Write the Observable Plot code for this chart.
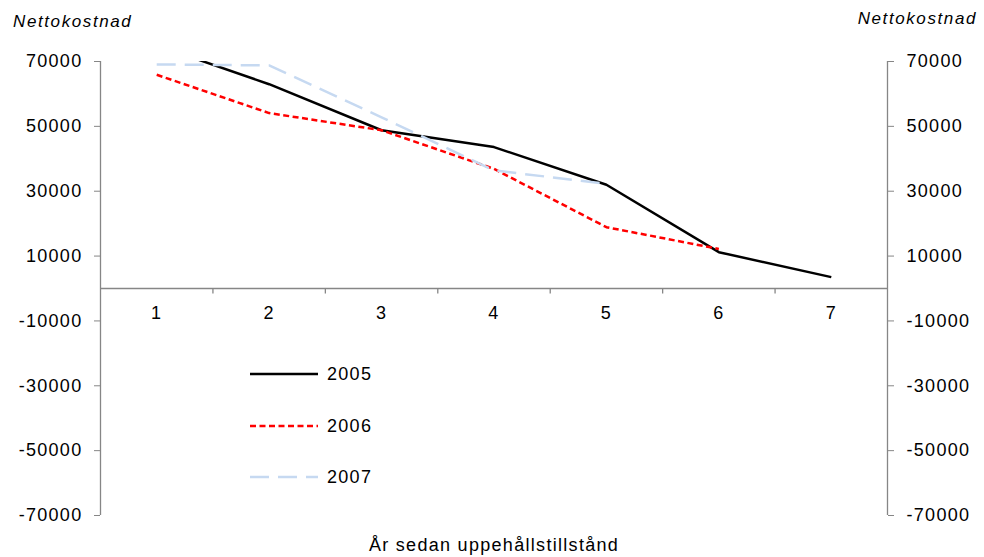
<!DOCTYPE html>
<html>
<head>
<meta charset="utf-8">
<script src="https://cdn.jsdelivr.net/npm/d3@7"></script>
<script src="https://cdn.jsdelivr.net/npm/@observablehq/plot@0.6"></script>
<style>
  html, body { margin: 0; padding: 0; background: #fff; }
  #chart svg { display: block; }
</style>
</head>
<body>
<div id="chart"></div>
<script>
const years = [1, 2, 3, 4, 5, 6, 7];
const series = ["2005", "2006", "2007"];
const v2005 = [75000, 63000, 48800, 43600, 32000, 11200, 3500];
const v2006 = [65900, 54100, 48800, 36900, 18900, 12200];
const v2007 = [69100, 68800, 52800, 36400, 32300];
const yTicks = [70000, 50000, 30000, 10000, -10000, -30000, -50000, -70000];
const xBoundaries = [1.5, 2.5, 3.5, 4.5, 5.5, 6.5];
const yTitle = "Nettokostnad";
const xTitle = "År sedan uppehållstillstånd";

const styles = {
  "2005": {stroke: "#000000", dash: null},
  "2006": {stroke: "#ff0000", dash: "6,3.5"},
  "2007": {stroke: "#c6d9f1", dash: "19,9"}
};

const rows = [];
[v2005, v2006, v2007].forEach((vals, i) => {
  vals.forEach((v, j) => rows.push({series: series[i], x: years[j], y: v}));
});

const font = "'Liberation Sans', Arial, sans-serif";
const W = 984, H = 557;
const axisGrey = "#868686";

const plot = Plot.plot({
  width: W,
  height: H,
  marginLeft: 100,
  marginRight: 97,
  marginTop: 61,
  marginBottom: 42,
  style: {fontFamily: font, fontSize: "18px", background: "white", letterSpacing: "1.3px"},
  x: {type: "linear", domain: [0.5, 7.5], axis: null},
  y: {domain: [-70000, 70000], axis: null},
  marks: [
    Plot.ruleX([0.5, 7.5], {stroke: axisGrey, strokeWidth: 1.3}),
    Plot.ruleY([0], {stroke: axisGrey, strokeWidth: 1.3}),
    Plot.ruleX(xBoundaries, {y1: 0, y2: -1700, stroke: axisGrey, strokeWidth: 1.3}),
    Plot.axisY({anchor: "left", ticks: yTicks, tickFormat: d => String(d), tickSize: 6, tickPadding: 12, stroke: axisGrey, fill: "black", label: null}),
    Plot.axisY({anchor: "right", ticks: yTicks, tickFormat: d => String(d), tickSize: 6, tickPadding: 13, stroke: axisGrey, fill: "black", label: null}),
    Plot.text(years, {x: d => d, y: () => 0, text: d => String(d), dy: 25, fill: "black"}),
    ...series.map(s => Plot.line(rows.filter(r => r.series === s), {
      x: "x", y: "y",
      stroke: styles[s].stroke,
      strokeWidth: 2.5,
      strokeDasharray: styles[s].dash,
      strokeLinejoin: "round",
      strokeLinecap: "butt",
      clip: true
    }))
  ]
});

document.getElementById("chart").appendChild(plot);

const svg = d3.select(plot);
const extra = svg.append("g").attr("font-family", font).attr("fill", "black").attr("text-anchor", "start");

extra.append("text").attr("x", 13).attr("y", 27).attr("text-anchor", "start")
  .attr("font-size", 17).attr("font-style", "italic").attr("letter-spacing", "1.6px")
  .text(yTitle);
extra.append("text").attr("x", 977).attr("y", 24).attr("text-anchor", "end")
  .attr("font-size", 17).attr("font-style", "italic").attr("letter-spacing", "1.6px")
  .text(yTitle);
extra.append("text").attr("x", 494).attr("y", 551).attr("text-anchor", "middle")
  .attr("font-size", 18).attr("letter-spacing", "1.3px")
  .text(xTitle);

const legendY = [374, 426, 477];
series.forEach((s, i) => {
  extra.append("line")
    .attr("x1", 250).attr("x2", 318).attr("y1", legendY[i]).attr("y2", legendY[i])
    .attr("stroke", styles[s].stroke).attr("stroke-width", 2.5)
    .attr("stroke-dasharray", styles[s].dash);
  extra.append("text").attr("x", 327).attr("y", legendY[i]).attr("dy", "0.35em")
    .attr("text-anchor", "start")
    .attr("font-size", 18).attr("letter-spacing", "1.3px")
    .text(s);
});
</script>
</body>
</html>
